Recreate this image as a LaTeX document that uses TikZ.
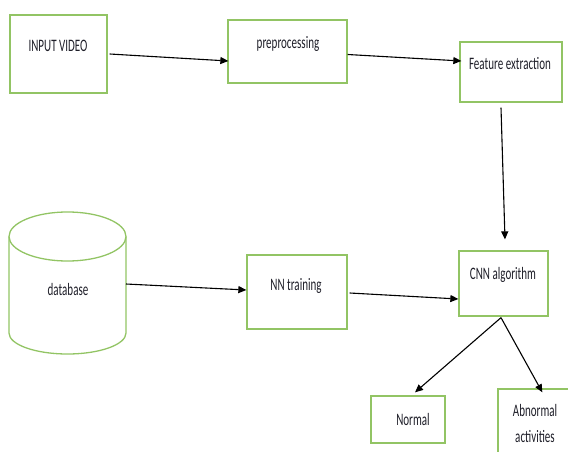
\documentclass[tikz,border=0pt]{standalone}
\usepackage{fontspec}
\newfontfamily\diagfont[FakeStretch=0.63]{Carlito}
\usetikzlibrary{arrows.meta,calc}
\definecolor{boxgreen}{RGB}{146,196,100}
\definecolor{txtgrey}{RGB}{30,30,40}
\tikzset{
  stepbox/.style={draw=boxgreen, line width=1.3pt, inner sep=0pt, fill=none},
  lbl/.style={inner sep=0pt, font=\diagfont\fontsize{17.5}{21}\selectfont, text=txtgrey, align=center},
  conn/.style={draw=black, line width=1.1pt, -{Triangle[length=8pt,width=7pt]}},
}
\begin{document}
\begin{tikzpicture}[x=1pt,y=-1pt]
\useasboundingbox (0,0) rectangle (568,452);
\clip (0,0) rectangle (568,452);
% boxes
\node[stepbox, minimum width=97pt, minimum height=78pt] (iv) at (58.5,54) {};
\node[lbl] (ivt) at (58,46) {INPUT VIDEO};
\node[stepbox, minimum width=119pt, minimum height=63pt] (pre) at (287.5,51.5) {};
\node[lbl] (pret) at (288,44) {preprocessing};
\node[stepbox, minimum width=102pt, minimum height=60pt] (fe) at (511,72) {};
\node[lbl] (fet) at (510,64) {Feature extraction};
\node[stepbox, minimum width=100pt, minimum height=74pt] (nn) at (297,292) {};
\node[lbl] (nnt) at (296,286) {NN training};
\node[stepbox, minimum width=89pt, minimum height=65pt] (cnn) at (503.5,283.5) {};
\node[lbl] (cnnt) at (503,275) {CNN algorithm};
\node[stepbox, minimum width=74pt, minimum height=47pt] (nor) at (408,419.5) {};
\node[lbl] (nort) at (413,419) {Normal};
\node[stepbox, minimum width=92pt, minimum height=81pt] (abn) at (544,429.5) {};
\node[lbl] (abnt1) at (535,410) {Abnormal};
\node[lbl] (abnt2) at (535,437) {activities};
% database cylinder
\draw[draw=boxgreen, line width=1.3pt]
  (9,236.5) -- (9,333) arc[start angle=180, end angle=360, x radius=58.5pt, y radius=21pt]
  -- (126,236.5);
\draw[draw=boxgreen, line width=1.3pt] (67.5,236.5) ellipse[x radius=58.5pt, y radius=24.5pt];
\node[lbl] (db) at (68,289) {database};
\coordinate (dbout) at (126,284);
% connectors
\draw[conn] ($(iv.east)+(2,0)$) -- ($(pre.west)+(1,9.5)$);
\draw[conn] ($(pre.east)+(0,3)$) -- ($(fe.west)+(2,-11)$);
\draw[conn] ($(fe.south)+(-10,5)$) -- ($(cnn.north)+(1.5,-11)$);
\draw[conn] (dbout) -- ($(nn.west)+(0,-2)$);
\draw[conn] ($(nn.east)+(2,1)$) -- ($(cnn.west)+(0,15.5)$);
\draw[conn] ($(cnn.south)+(-2.5,1)$) -- ($(nor.north)+(7,-3)$);
\draw[conn] ($(cnn.south)+(-2.5,1)$) -- ($(abn.north west)+(45,4)$);
\end{tikzpicture}
\end{document}
